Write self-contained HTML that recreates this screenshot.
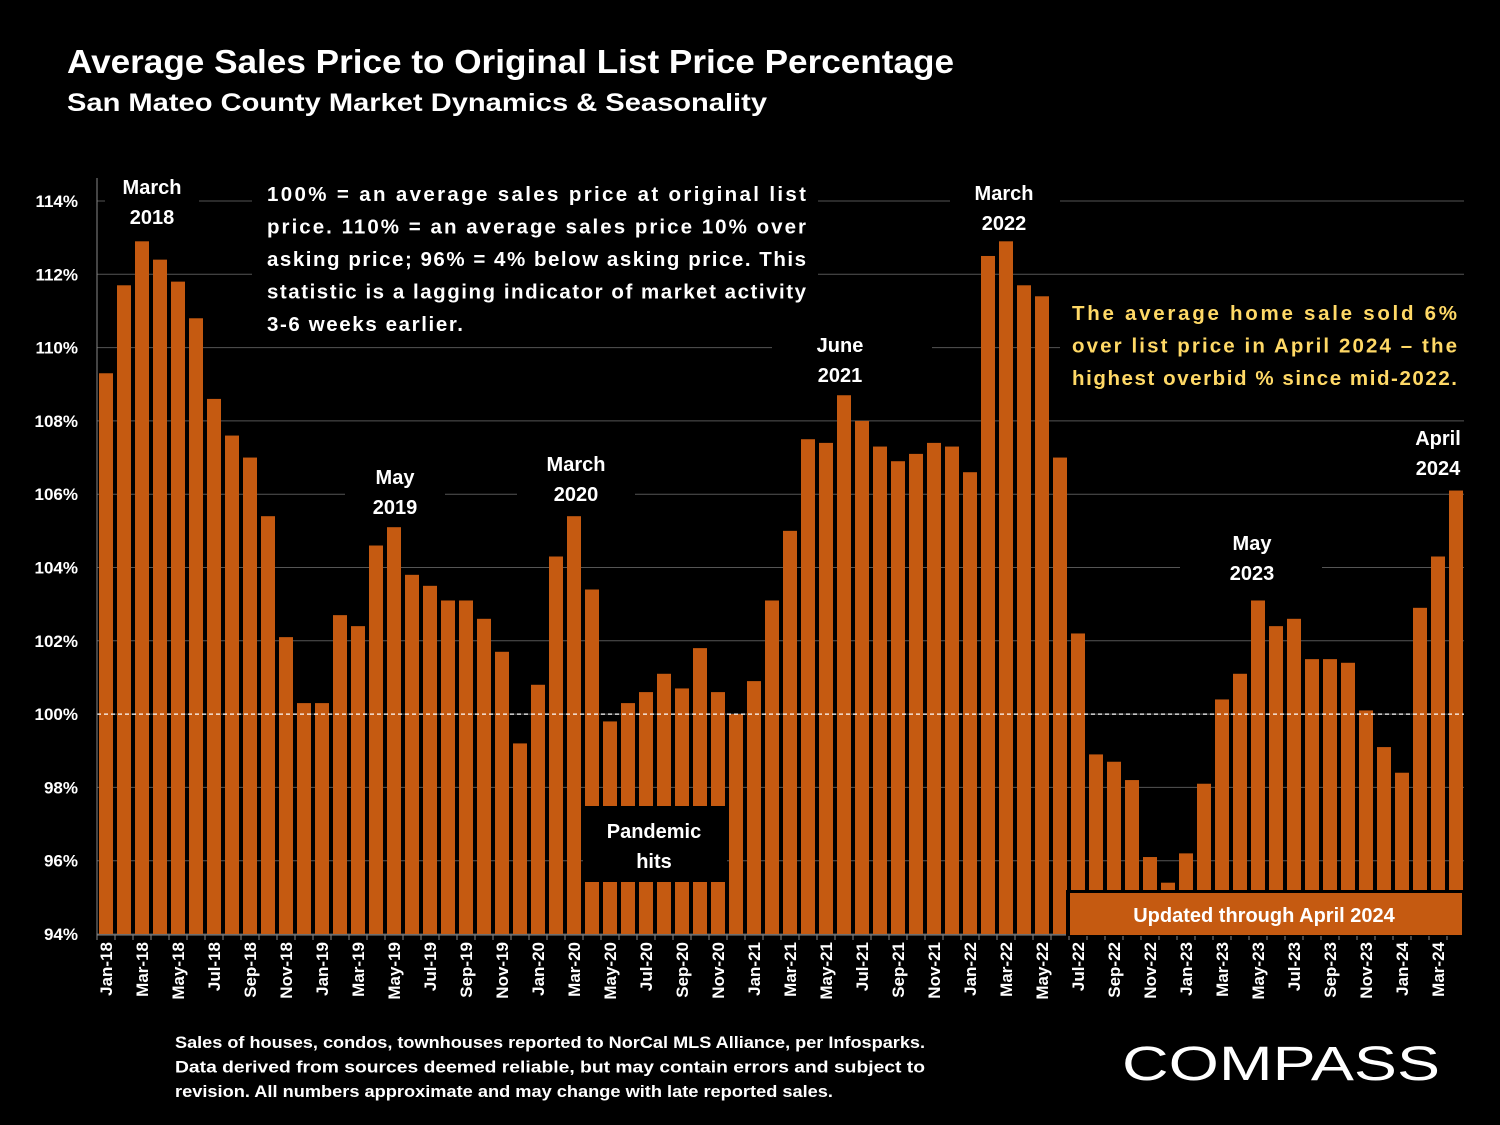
<!DOCTYPE html>
<html><head><meta charset="utf-8">
<style>
body{margin:0;background:#000;width:1500px;height:1125px;overflow:hidden;font-family:"Liberation Sans",sans-serif;color:#fff}
svg{position:absolute;left:0;top:0}
</style></head><body>
<svg id="c" width="1500" height="1125"></svg>
<script>
const categories=["Jan-18","Feb-18","Mar-18","Apr-18","May-18","Jun-18","Jul-18","Aug-18","Sep-18","Oct-18","Nov-18","Dec-18",
"Jan-19","Feb-19","Mar-19","Apr-19","May-19","Jun-19","Jul-19","Aug-19","Sep-19","Oct-19","Nov-19","Dec-19",
"Jan-20","Feb-20","Mar-20","Apr-20","May-20","Jun-20","Jul-20","Aug-20","Sep-20","Oct-20","Nov-20","Dec-20",
"Jan-21","Feb-21","Mar-21","Apr-21","May-21","Jun-21","Jul-21","Aug-21","Sep-21","Oct-21","Nov-21","Dec-21",
"Jan-22","Feb-22","Mar-22","Apr-22","May-22","Jun-22","Jul-22","Aug-22","Sep-22","Oct-22","Nov-22","Dec-22",
"Jan-23","Feb-23","Mar-23","Apr-23","May-23","Jun-23","Jul-23","Aug-23","Sep-23","Oct-23","Nov-23","Dec-23",
"Jan-24","Feb-24","Mar-24","Apr-24"];
const values=[109.3,111.7,112.9,112.4,111.8,110.8,108.6,107.6,107.0,105.4,102.1,100.3,
100.3,102.7,102.4,104.6,105.1,103.8,103.5,103.1,103.1,102.6,101.7,99.2,
100.8,104.3,105.4,103.4,99.8,100.3,100.6,101.1,100.7,101.8,100.6,100.0,
100.9,103.1,105.0,107.5,107.4,108.7,108.0,107.3,106.9,107.1,107.4,107.3,
106.6,112.5,112.9,111.7,111.4,107.0,102.2,98.9,98.7,98.2,96.1,95.4,
96.2,98.1,100.4,101.1,103.1,102.4,102.6,101.5,101.5,101.4,100.1,99.1,
98.4,102.9,104.3,106.1];
const yTicks=[94,96,98,100,102,104,106,108,110,112,114];
const NS="http://www.w3.org/2000/svg";
const svg=document.getElementById('c');
const X0=97,STEP=18,BW=14,Y0=934,PX=36.65,YMIN=94;
const y=v=>Y0-(v-YMIN)*PX;
const xc=i=>X0+STEP*i+STEP/2;
function mk(tag,a,txt){const e=document.createElementNS(NS,tag);for(const k in a)e.setAttribute(k,a[k]);if(txt!=null)e.textContent=txt;svg.appendChild(e);return e;}
function T(x,yy,s,size,anchor,fill,name){const e=mk('text',{x:x,y:yy,'font-size':size,'font-weight':'bold','text-anchor':anchor||'start',fill:fill||'#fff','font-family':'Liberation Sans, sans-serif'},s);return e;}
yTicks.forEach(v=>{
 const g=mk('line',{x1:X0,x2:1464,y1:y(v),y2:y(v),stroke:'#555','stroke-width':1});
 
 T(78,y(v)+6,v+'%',17,'end','#fff','y-tick-label');
});
values.forEach((v,i)=>{
 const b=mk('rect',{x:xc(i)-BW/2,y:y(v),width:BW,height:Y0-y(v),fill:'#c55a11'});
 
 
});
const d=mk('line',{x1:X0,x2:1464,y1:y(100),y2:y(100),stroke:'#fff','stroke-width':1.3,'stroke-dasharray':'4,3'});

const ax=mk('line',{x1:X0,x2:1464,y1:Y0+1,y2:Y0+1,stroke:'#888','stroke-width':1});

const ay=mk('line',{x1:X0,x2:X0,y1:178,y2:Y0+1,stroke:'#888','stroke-width':1});

categories.forEach((c,i)=>{
 const tk=mk('line',{x1:X0+STEP*i,x2:X0+STEP*i,y1:Y0+1,y2:Y0+6,stroke:'#888'});
 
 if(i%2===0){const t=T(0,0,c,17,'end','#fff','x-tick-label');t.setAttribute('transform',`translate(${xc(i)+6},${Y0+8}) rotate(-90)`);}
});
function box(x,yy,w,h,fill,name){const r=mk('rect',{x:x,y:yy,width:w,height:h,fill:fill});}
box(105,170,94,62,'#000','label-bg');box(252,172,566,170,'#000','note-bg');
box(950,176,110,62,'#000','label-bg');box(772,330,160,62,'#000','label-bg');
box(345,462,100,60,'#000','label-bg');box(517,448,118,62,'#000','label-bg');
box(1060,290,410,110,'#000','note-bg');box(1180,528,142,62,'#000','label-bg');
box(1400,422,80,62,'#000','label-bg');
box(583,806,144,76,'#000','pandemic-box');
box(1066,890,398,46,'#000','updated-bg');box(1070,893,392,42,'#c55a11','updated-box');
T(152,194,'March',20,'middle',null,'peak-label');T(152,224,'2018',20,'middle',null,'peak-label');
T(1004,200,'March',20,'middle',null,'peak-label');T(1004,230,'2022',20,'middle',null,'peak-label');
T(840,352,'June',20,'middle',null,'peak-label');T(840,382,'2021',20,'middle',null,'peak-label');
T(395,484,'May',20,'middle',null,'peak-label');T(395,514,'2019',20,'middle',null,'peak-label');
T(576,471,'March',20,'middle',null,'peak-label');T(576,501,'2020',20,'middle',null,'peak-label');
T(1252,550,'May',20,'middle',null,'peak-label');T(1252,580,'2023',20,'middle',null,'peak-label');
T(1438,445,'April',20,'middle',null,'peak-label');T(1438,475,'2024',20,'middle',null,'peak-label');
T(654,838,'Pandemic',20,'middle',null,'pandemic-label');T(654,868,'hits',20,'middle',null,'pandemic-label');
T(1264,922,'Updated through April 2024',20,'middle',null,'updated-label');
const note=["100% = an average sales price at original list","price. 110% = an average sales price 10% over","asking price; 96% = 4% below asking price. This","statistic is a lagging indicator of market activity","3-6 weeks earlier."];
note.forEach((s,i)=>{const t=T(267,201+i*32.5,s,20.5,'start',null,'explanation-note');t.setAttribute('textLength',i<4?539:196);t.setAttribute('lengthAdjust','spacing');});
const hl=["The average home sale sold 6%","over list price in April 2024 – the","highest overbid % since mid-2022."];
hl.forEach((s,i)=>{const t=T(1072,320+i*32.5,s,20.5,'start','#ffd966','highlight-note');t.setAttribute('textLength',385);t.setAttribute('lengthAdjust','spacing');});
const ti=T(67,73,'Average Sales Price to Original List Price Percentage',33,'start',null,'chart-title');ti.setAttribute('textLength',887);ti.setAttribute('lengthAdjust','spacingAndGlyphs');
const st=T(67,111,'San Mateo County Market Dynamics & Seasonality',25,'start',null,'chart-subtitle');st.setAttribute('textLength',700);st.setAttribute('lengthAdjust','spacingAndGlyphs');
const fn=["Sales of houses, condos, townhouses reported to NorCal MLS Alliance, per Infosparks.","Data derived from sources deemed reliable, but may contain errors and subject to","revision. All numbers approximate and may change with late reported sales."];
fn.forEach((s,i)=>{const t=T(175,1048+i*24.5,s,16.5,'start',null,'footnote');t.setAttribute('textLength',i<2?750:658);t.setAttribute('lengthAdjust','spacingAndGlyphs');});
const lg=T(1122,1080,'COMPASS',48,'start',null,'compass-logo');lg.setAttribute('font-weight','normal');lg.setAttribute('textLength',318);lg.setAttribute('lengthAdjust','spacingAndGlyphs');
</script>
</body></html>
